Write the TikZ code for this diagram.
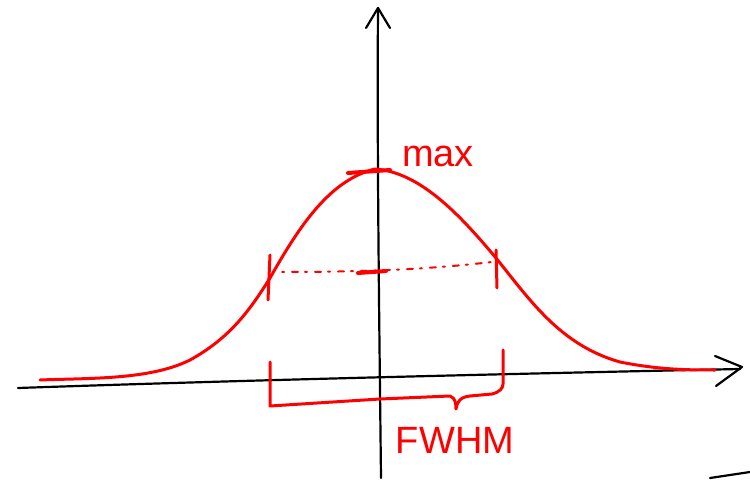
\documentclass[tikz,border=0pt]{standalone}
\usepackage{fontspec}
\setmainfont{Liberation Sans}
\begin{document}
\begin{tikzpicture}[x=1pt,y=-1pt,
  ax/.style={black,line width=2.2pt,line cap=round,line join=round},
  rd/.style={red,line width=3pt,line cap=round,line join=round},
  lbl/.style={red,inner sep=0pt}]
\useasboundingbox (0,0) rectangle (750,481);
% axes
\coordinate (xl) at (18,388);
\coordinate (xr) at (740,369);
\coordinate (yb) at (381,478);
\coordinate (yt) at (378,8);
\draw[ax] (xl) .. controls (250,380) and (500,374) .. (xr);
\draw[ax] (715,356) -- (742,367) -- (716,386);
\draw[ax] (yb) .. controls (379,300) and (377,150) .. (yt);
\draw[ax] (366,28) -- (378,8) -- (390,28);
\coordinate (s1) at (710,478);
\coordinate (s2) at (750,472);
\draw[ax] (s1) -- (s2);
% gaussian
\draw[rd] (40,380) .. controls (90,378) and (150,380) .. (190,360)
  .. controls (230,338) and (250,310) .. (270,278)
  .. controls (300,225) and (330,180) .. (375,169)
  .. controls (420,172) and (460,215) .. (496,258)
  .. controls (530,300) and (560,345) .. (620,362)
  .. controls (660,370) and (690,370) .. (715,370);
% max mark
\coordinate (m1) at (348,173);
\coordinate (m2) at (390,170);
\draw[rd,line width=4pt] (m1) -- (m2);
\node[lbl,anchor=west,font=\fontsize{38}{40}\selectfont] (max) at (402,156) {max};
% half max ticks
\coordinate (l1) at (270,255);
\coordinate (l2) at (268,300);
\coordinate (r1) at (496,250);
\coordinate (r2) at (497,288);
\draw[rd] (l1) -- (l2);
\draw[rd] (r1) -- (r2);
\coordinate (d1) at (282,272);
\coordinate (d2) at (492,262);
\draw[red,line width=2pt,dash pattern=on 2pt off 8pt on 6pt off 7pt,line cap=round] (d1) .. controls (380,272) and (440,268) .. (d2);
\coordinate (c1) at (358,273);
\coordinate (c2) at (386,271);
\draw[rd,line width=4pt] (c1) -- (c2);
% FWHM bracket
\coordinate (b1) at (270,362);
\coordinate (b2) at (503,350);
\draw[rd] (b1) -- (270,406) -- (380,399) -- (450,396) .. controls (456,398) and (456,405) .. (456,409)
  .. controls (457,402) and (460,397) .. (470,396) -- (492,394) .. controls (500,392) and (503,388) .. (503,384) -- (b2);
\node[lbl,anchor=center,font=\fontsize{38}{40}\selectfont] (fwhm) at (455,440) {FWHM};
\end{tikzpicture}
\end{document}
